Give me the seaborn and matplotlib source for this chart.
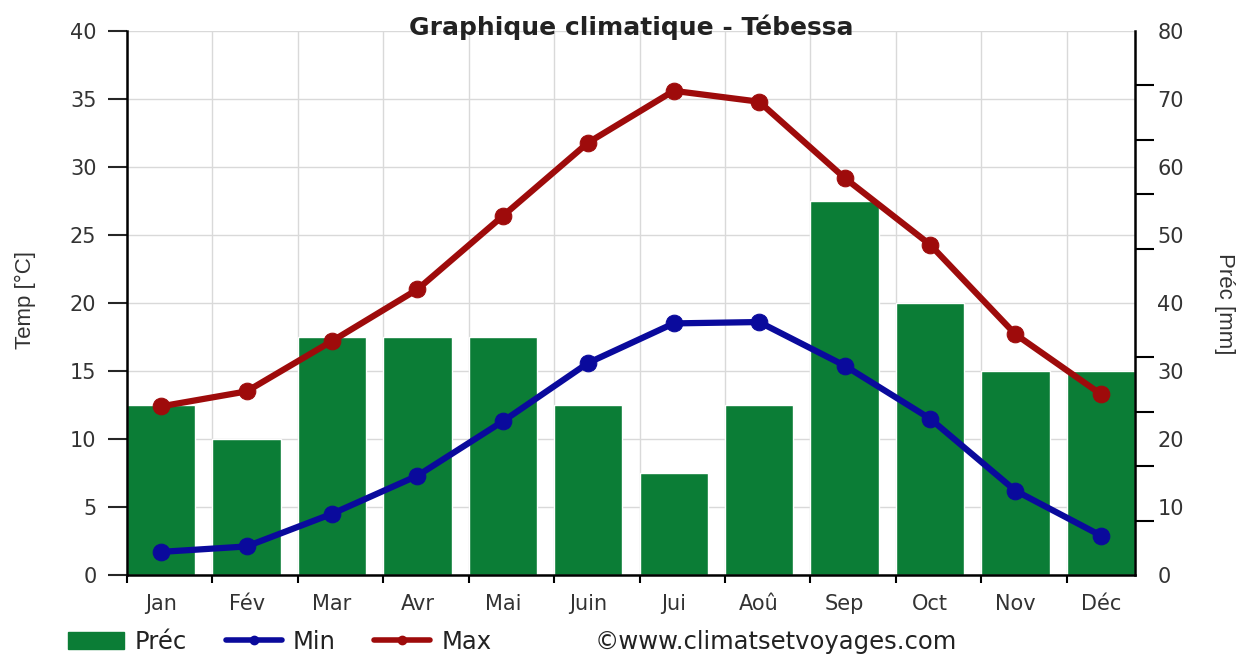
import numpy as np
import pandas as pd
import matplotlib.pyplot as plt
import seaborn as sns
from matplotlib.patches import Patch
from matplotlib.lines import Line2D

# Données climatiques - Tébessa
mois = ["Jan", "Fév", "Mar", "Avr", "Mai", "Juin", "Jui", "Aoû", "Sep", "Oct", "Nov", "Déc"]
temp_max = [12.4, 13.5, 17.2, 21.0, 26.4, 31.8, 35.6, 34.8, 29.2, 24.3, 17.7, 13.3]
temp_min = [1.7, 2.1, 4.5, 7.3, 11.3, 15.6, 18.5, 18.6, 15.4, 11.5, 6.2, 2.9]
prec = [25, 20, 35, 35, 35, 25, 15, 25, 55, 40, 30, 30]

vert = "#0b7d36"
bleu = "#0a0a9c"
rouge = "#9e0b0b"
gris = "#333333"

sns.set_style("ticks")
plt.rcParams['font.family'] = ['DejaVu Sans']

df = pd.DataFrame({"mois": mois, "pos": np.arange(len(mois)),
                   "max": temp_max, "min": temp_min, "prec": prec})

fig = plt.figure(figsize=(12.48, 6.54), dpi=100)
# axe principal : précipitations (barres + grille)
ax = fig.add_axes([127 / 1248, 1 - 575 / 654, 1008 / 1248, 544 / 654])
sns.barplot(data=df, x="pos", y="prec", ax=ax, color=vert, width=0.8,
            saturation=1, native_scale=True, zorder=2)

# axe secondaire : températures
ax2 = ax.twinx()
sns.lineplot(data=df, x="pos", y="max", ax=ax2, color=rouge, linewidth=4.5,
             marker="o", markersize=12, markeredgecolor=rouge, sort=False)
sns.lineplot(data=df, x="pos", y="min", ax=ax2, color=bleu, linewidth=4.5,
             marker="o", markersize=12, markeredgecolor=bleu, sort=False)

# précipitations à droite
ax.yaxis.tick_right()
ax.set_ylim(0, 80)
ax.set_xlim(-0.4, len(mois) - 0.6)
ax.set_yticks(np.arange(0, 81, 10))
ax.set_yticks(np.linspace(0, 80, 11), minor=True)
ax.tick_params(axis="y", which="major", length=0, pad=16, labelsize=15, labelcolor=gris)
ax.tick_params(axis="y", which="minor", length=14, width=1.5, color="black")
ax.set_xticks(df["pos"])
ax.set_xticklabels(mois)
ax.set_xticks(df["pos"] - 0.4, minor=True)
ax.tick_params(axis="x", which="major", length=0, pad=14, labelsize=15, labelcolor=gris)
ax.tick_params(axis="x", which="minor", length=6, width=1.5, color="black")
ax.grid(False)
ax.yaxis.grid(True, which="major", color="#d9d9d9", linewidth=1, zorder=0)
ax.xaxis.grid(True, which="minor", color="#d9d9d9", linewidth=1, zorder=0)
ax.set_axisbelow(True)
ax.set_xlabel("")
ax.set_ylabel("")
for s in ["top", "left"]:
    ax.spines[s].set_visible(False)
for s in ["right", "bottom"]:
    ax.spines[s].set_linewidth(1.8)
    ax.spines[s].set_color("black")

# températures à gauche
ax2.yaxis.tick_left()
ax2.set_ylim(0, 40)
ax2.set_yticks(np.arange(0, 41, 5))
ax2.tick_params(axis="y", length=14, width=1.5, pad=8, labelsize=15, labelcolor=gris)
ax2.set_ylabel("")
ax2.set_xlabel("")
for s in ["top", "right", "bottom"]:
    ax2.spines[s].set_visible(False)
ax2.spines["left"].set_linewidth(1.8)
ax2.spines["left"].set_color("black")

fig.text(631 / 1248, 1 - 27 / 654, "Graphique climatique - Tébessa",
         ha="center", va="center", fontsize=18, fontweight="bold", color="#222222")
fig.text(25 / 1248, 1 - 300 / 654, "Temp [°C]", rotation=90,
         ha="center", va="center", fontsize=16, color=gris,
         family=['Liberation Sans', 'DejaVu Sans'])
fig.text(1224 / 1248, 1 - 304 / 654, "Préc [mm]", rotation=270,
         ha="center", va="center", fontsize=16, color=gris,
         family=['Liberation Sans', 'DejaVu Sans'])

handles = [Patch(facecolor=vert, edgecolor=vert),
           Line2D([0], [0], color=bleu, linewidth=4, marker="o", markersize=6),
           Line2D([0], [0], color=rouge, linewidth=4, marker="o", markersize=6)]
fig.legend(handles, ["Préc", "Min", "Max"], loc="center left",
           bbox_to_anchor=(58 / 1248, 1 - 642 / 654), ncol=3, frameon=False,
           fontsize=17.5, handlelength=2.3, handleheight=0.75, handletextpad=0.45,
           columnspacing=1.6, labelcolor="#222222", borderaxespad=0)
fig.text(595 / 1248, 1 - 642 / 654, "©www.climatsetvoyages.com",
         ha="left", va="center", fontsize=17.5, color="#222222")

fig.savefig("out.png", dpi=100)
